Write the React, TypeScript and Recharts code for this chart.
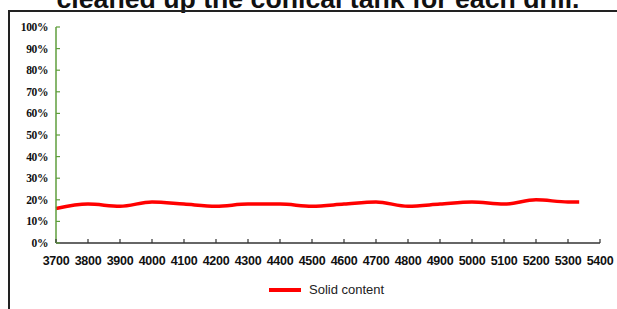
import { LineChart, Line, XAxis, YAxis } from 'recharts'

// depth (m) and solid content (%)
const depths = [3700, 3800, 3900, 4000, 4100, 4200, 4300, 4400, 4500, 4600, 4700, 4800, 4900, 5000, 5100, 5200, 5300, 5335]
const solidContent = [16, 18, 17, 19, 18, 17, 18, 18, 17, 18, 19, 17, 18, 19, 18, 20, 19, 19]

const xTicks = [3700, 3800, 3900, 4000, 4100, 4200, 4300, 4400, 4500, 4600, 4700, 4800, 4900, 5000, 5100, 5200, 5300, 5400]
const yTicks = [0, 10, 20, 30, 40, 50, 60, 70, 80, 90, 100]

const title = 'cleaned up the conical tank for each drill.'
const seriesName = 'Solid content'

const GREEN = '#5f9e3c'
const AXIS = '#333333'

const data = depths.map((d, i) => ({ depth: d, solid: solidContent[i] }))

function YTick({ x, y, payload }: any) {
  return (
    <g>
      <line x1={x} x2={x + 4} y1={y} y2={y} stroke={GREEN} strokeWidth={1.2} />
      <text
        x={x - 8}
        y={y}
        dy={4}
        textAnchor="end"
        fontFamily="'Liberation Serif', serif"
        fontWeight="bold"
        fontSize={11.5}
        letterSpacing={-0.4}
        fill="#111"
      >
        {payload.value}%
      </text>
    </g>
  )
}

function XTick({ x, y, payload }: any) {
  return (
    <g>
      <line x1={x} x2={x} y1={y} y2={y - 4} stroke={AXIS} strokeWidth={1.2} />
      <text
        x={x}
        y={y}
        dy={22}
        textAnchor="middle"
        fontFamily="'Liberation Sans', Arial, sans-serif"
        fontWeight="bold"
        fontSize={12.5}
        letterSpacing={-0.3}
        fill="#111"
      >
        {payload.value}
      </text>
    </g>
  )
}

export default function App() {
  return (
    <div style={{ position: 'fixed', top: 0, left: 0, width: 617, height: 309, overflow: 'hidden', background: '#fff' }}>
      {/* cropped title and the frame around the chart */}
      <svg width={617} height={309} style={{ position: 'absolute', top: 0, left: 0 }}>
        <text
          x={318}
          y={7.5}
          textAnchor="middle"
          textLength={523}
          lengthAdjust="spacingAndGlyphs"
          fontFamily="'Liberation Sans', Arial, sans-serif"
          fontWeight="bold"
          fontSize={26.5}
          fill="#111"
        >
          {title}
        </text>
        <line x1={8} x2={617} y1={11} y2={11} stroke="#222" strokeWidth={2} />
        <line x1={9} x2={9} y1={10} y2={309} stroke="#222" strokeWidth={2} />
      </svg>
      <div style={{ position: 'absolute', top: 0, left: 0 }}>
        <LineChart width={617} height={309} data={data} margin={{ top: 27, right: 17, left: 0, bottom: 0 }}>
          <XAxis
            dataKey="depth"
            type="number"
            domain={[3700, 5400]}
            ticks={xTicks}
            interval={0}
            height={66}
            tickSize={0}
            tickMargin={0}
            tickLine={false}
            axisLine={{ stroke: AXIS, strokeWidth: 1.5 }}
            tick={<XTick />}
          />
          <YAxis
            type="number"
            domain={[0, 100]}
            ticks={yTicks}
            interval={0}
            width={56}
            tickSize={0}
            tickMargin={0}
            tickLine={false}
            axisLine={{ stroke: GREEN, strokeWidth: 1.5 }}
            tick={<YTick />}
          />
          <Line
            type="monotone"
            dataKey="solid"
            name={seriesName}
            stroke="#ff0000"
            strokeWidth={3.5}
            dot={false}
            isAnimationActive={false}
          />
        </LineChart>
      </div>
      <div
        style={{
          position: 'absolute',
          top: 282,
          left: 269,
          display: 'flex',
          alignItems: 'center',
          fontFamily: "'Liberation Sans', Arial, sans-serif",
          fontSize: 13,
          color: '#222',
        }}
      >
        <span style={{ display: 'inline-block', width: 32, height: 4, background: '#ff0000', marginRight: 8 }} />
        <span>{seriesName}</span>
      </div>
    </div>
  )
}
